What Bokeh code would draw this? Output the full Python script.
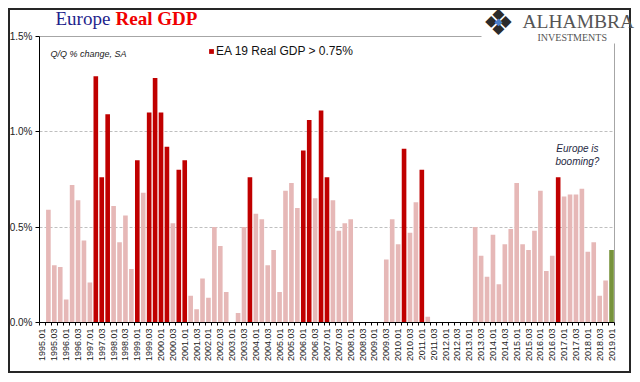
import math
from bokeh.plotting import figure
from bokeh.models import (Range1d, FixedTicker, Label, Legend, LegendItem, ColumnDataSource,
                          Grid, BoxAnnotation)
from bokeh.embed import file_html
from bokeh.resources import INLINE

# ---------------- data ----------------
years = list(range(1995, 2020))
quarters = [f"{y}.0{q}" for y in years for q in (1, 2, 3, 4)][:97]

# Q/Q % change (quarters at or below zero are not visible on the 0..1.5 axis)
gdp_qoq = [
    0.00, 0.59, 0.30, 0.29, 0.12, 0.72, 0.64, 0.43, 0.21,   # 1995Q1-1997Q1
    1.29, 0.76, 1.09, 0.61, 0.42, 0.56, 0.28, 0.85,
    0.68, 1.10, 1.28, 1.10, 0.92, 0.52, 0.80, 0.85,
    0.14, 0.07, 0.23, 0.13, 0.50, 0.40, 0.16, 0.00,
    0.05, 0.50, 0.76, 0.57, 0.54, 0.30, 0.38, 0.16,
    0.69, 0.73, 0.60, 0.90, 1.06, 0.65, 1.11, 0.76,
    0.64, 0.48, 0.52, 0.54, 0.00, 0.00, 0.00, 0.00,
    0.00, 0.33, 0.54, 0.41, 0.91, 0.47, 0.63, 0.80,
    0.03, 0.00, 0.00, 0.00, 0.00, 0.00, 0.00, 0.00,
    0.50, 0.35, 0.24, 0.46, 0.20, 0.41, 0.49, 0.73,
    0.41, 0.38, 0.48, 0.69, 0.27, 0.35, 0.76, 0.66,
    0.67, 0.67, 0.70, 0.37, 0.42, 0.14, 0.22, 0.38,         # ... 2019Q1
]
threshold = 0.75
series_name = "EA 19 Real GDP > 0.75%"
y_ticks = [0.0, 0.5, 1.0, 1.5]
y_tick_labels = ["0.0%", "0.5%", "1.0%", "1.5%"]

LIGHT = "#E6B8B7"
RED = "#C00000"
GREEN = "#77933C"

n = len(gdp_qoq)
last = n - 1
idx = list(range(n))
light_idx = [i for i in idx if i < last and gdp_qoq[i] <= threshold]
red_idx = [i for i in idx if i < last and gdp_qoq[i] > threshold]
light_src = ColumnDataSource(dict(x=light_idx, top=[gdp_qoq[i] for i in light_idx]))
red_src = ColumnDataSource(dict(x=red_idx, top=[gdp_qoq[i] for i in red_idx]))
green_src = ColumnDataSource(dict(x=[last], top=[gdp_qoq[last]]))

# ---------------- figure ----------------
# plot area: x -0.5..n-0.5, y 0..1.5; the frame reaches the canvas top/right edges
# so that the header texts and the logo sit inside it
x_lo, x_hi = -0.5, n - 0.5
y_lo, y_hi = 0.0, 1.5
p = figure(width=639, height=381,
           x_range=Range1d(x_lo, 100.72), y_range=Range1d(y_lo, 1.686),
           output_backend="svg", toolbar_location=None,
           min_border_left=39, min_border_right=0, min_border_top=0, min_border_bottom=59,
           background_fill_alpha=0, border_fill_alpha=0)
p.styles = {"background-color": "white",
            "box-shadow": "inset 0 0 0 8px white, inset 0 0 0 10px #262626"}
p.outline_line_color = None


def cross(g, b):
    if "cross_bounds" in g.properties():
        g.cross_bounds = b


p.xgrid.visible = False
p.ygrid.ticker = FixedTicker(ticks=[0.5, 1.0])
p.ygrid.grid_line_color = "#BFBFBF"
p.ygrid.grid_line_dash = "3 2"
cross(p.ygrid[0], (x_lo, x_hi))

top_line = Grid(dimension=1, ticker=FixedTicker(ticks=[y_hi]), grid_line_color="#A6A6A6")
cross(top_line, (x_lo, x_hi))
right_line = Grid(dimension=0, ticker=FixedTicker(ticks=[x_hi]), grid_line_color="#A6A6A6")
cross(right_line, (y_lo, y_hi))
p.add_layout(top_line)
p.add_layout(right_line)

p.vbar(x="x", top="top", width=0.78, source=light_src, fill_color=LIGHT, line_color=None)
red_r = p.vbar(x="x", top="top", width=0.78, source=red_src, fill_color=RED, line_color=None)
p.vbar(x="x", top="top", width=0.78, source=green_src, fill_color=GREEN, line_color=None)

# x axis
xa = p.xaxis[0]
xa.bounds = (x_lo, x_hi)
xa.ticker = FixedTicker(ticks=list(range(0, n, 2)),
                        minor_ticks=[i - 0.5 for i in range(n + 1)])
xa.major_label_overrides = {i: quarters[i] for i in range(0, n, 2)}
xa.major_label_orientation = math.pi / 2
xa.major_tick_line_color = None
xa.major_tick_out = 0
xa.major_tick_in = 0
xa.minor_tick_out = 3
xa.minor_tick_in = 0
xa.minor_tick_line_color = "black"
xa.axis_line_color = "black"
xa.major_label_standoff = 3
xa.major_label_text_font = "Liberation Sans"
xa.major_label_text_font_size = "9px"
xa.major_label_text_color = "#222222"

# y axis
ya = p.yaxis[0]
ya.bounds = (y_lo, y_hi)
ya.ticker = FixedTicker(ticks=y_ticks)
ya.major_label_overrides = {t: s for t, s in zip(y_ticks, y_tick_labels)}
ya.major_tick_out = 4
ya.major_tick_in = 0
ya.minor_tick_line_color = None
ya.axis_line_color = "black"
ya.major_tick_line_color = "black"
ya.major_label_standoff = 3
ya.major_label_text_font = "Liberation Sans"
ya.major_label_text_font_size = "10px"
ya.major_label_text_color = "#222222"

# legend
legend = Legend(items=[LegendItem(label=series_name, renderers=[red_r])],
                location=(169, 264), orientation="horizontal",
                glyph_width=6, glyph_height=6, label_standoff=2, label_height=12,
                padding=0, margin=0, border_line_color=None, background_fill_alpha=0,
                label_text_font="Liberation Sans", label_text_font_size="12px",
                label_text_color="#111111")
p.add_layout(legend)

# white area behind the logo (inside the outer border)
p.add_layout(BoxAnnotation(left=442, right=589, bottom=279, top=311,
                           left_units="screen", right_units="screen",
                           bottom_units="screen", top_units="screen",
                           fill_color="white", fill_alpha=1.0, line_alpha=0))


def lab(**kw):
    p.add_layout(Label(**kw))


lab(x=16, y=294, x_units="screen", y_units="screen", text="Europe",
    text_font="Liberation Serif", text_font_size="19px", text_color="#1F1F8C")
lab(x=76, y=294, x_units="screen", y_units="screen", text="Real GDP",
    text_font="Liberation Serif", text_font_size="19px", text_font_style="bold",
    text_color="#F00000")
lab(x=11, y=269, x_units="screen", y_units="screen", text="Q/Q % change, SA",
    text_font="Liberation Sans", text_font_size="9px", text_font_style="italic",
    text_color="#222222", text_baseline="middle")
lab(x=90.25, y=0.912, text="Europe is", text_align="center", text_baseline="middle",
    text_font="Liberation Sans", text_font_size="10px", text_font_style="italic",
    text_color="#1F2A44")
lab(x=90.25, y=0.844, text="booming?", text_align="center", text_baseline="middle",
    text_font="Liberation Sans", text_font_size="10px", text_font_style="italic",
    text_color="#1F2A44")

# logo
lab(x=459, y=300, x_units="screen", y_units="screen", text="\u2756", text_align="center",
    text_baseline="middle", text_font="DejaVu Sans", text_font_size="36px",
    text_color="#2B2B2B")
lab(x=459, y=301, x_units="screen", y_units="screen", text="\u25C6", text_align="center",
    text_baseline="middle", text_font="DejaVu Sans", text_font_size="10px",
    text_color="#4A7EC8")
lab(x=483, y=291, x_units="screen", y_units="screen", text="ALHAMBRA",
    text_font="Liberation Serif", text_font_size="19.5px", text_color="#555555")
lab(x=498, y=280, x_units="screen", y_units="screen", text="INVESTMENTS",
    text_font="Liberation Serif", text_font_size="10px", text_color="#555555")

open("out.html", "w").write(file_html(p, INLINE))
